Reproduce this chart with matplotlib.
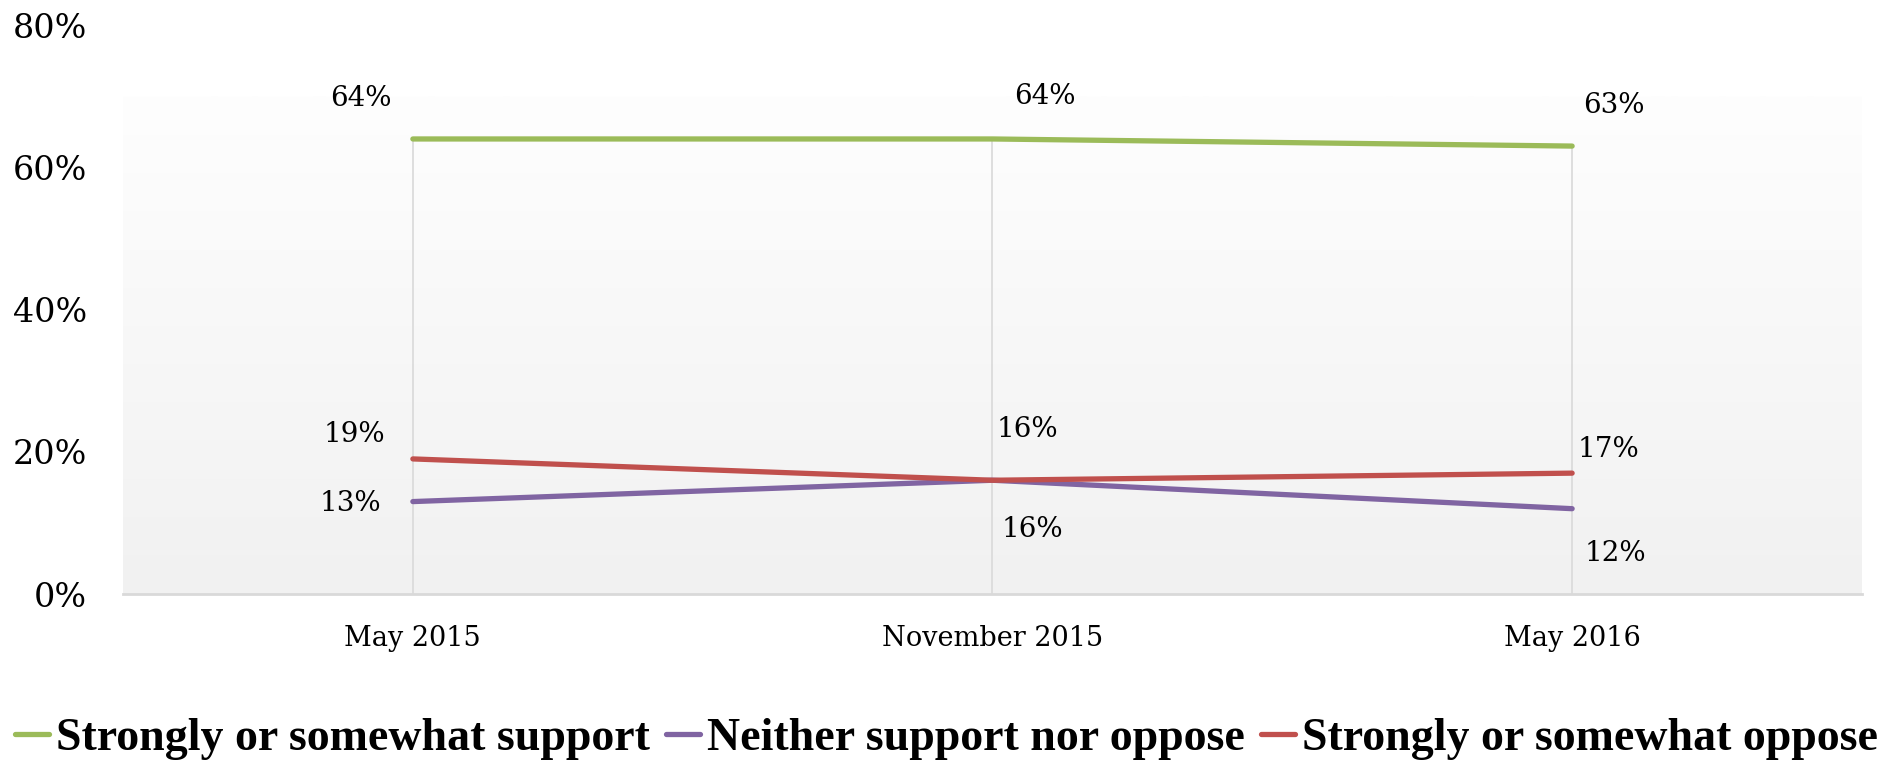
import numpy as np
import matplotlib
matplotlib.use('Agg')
import matplotlib.pyplot as plt
from matplotlib.ticker import FuncFormatter

# data
categories = ['May 2015', 'November 2015', 'May 2016']
support = [64, 64, 63]
neither = [13, 16, 12]
oppose = [19, 16, 17]
series_names = ['Strongly or somewhat support', 'Neither support nor oppose', 'Strongly or somewhat oppose']
y_ticks = [0, 20, 40, 60, 80]

GREEN, PURPLE, RED = '#9BBB59', '#8064A2', '#C0504D'
SERIF = ['DejaVu Serif']

fig = plt.figure(figsize=(18.93, 7.64), dpi=100, facecolor='white')
ax = fig.add_axes([0.065, 0.2225, 0.9186, 0.7445])
x = np.arange(len(categories))

ax.set_xlim(-0.5, 2.5)
ax.set_ylim(0, 80)

# gradient plot-area background (white at top -> light grey at bottom)
grad = np.linspace(0, 1, 256).reshape(-1, 1)
ax.imshow(grad, extent=[-0.5, 2.5, 0, 70], aspect='auto', origin='lower',
          cmap=matplotlib.colors.LinearSegmentedColormap.from_list('bg', ['#f1f1f1', '#fefefe']),
          zorder=0)

# drop lines
tops = np.maximum.reduce([support, neither, oppose])
ax.vlines(x, 0, tops, color='#d9d9d9', linewidth=1.2, zorder=1)

ax.plot(x, support, color=GREEN, linewidth=3.8, solid_capstyle='round', label=series_names[0], zorder=3)
ax.plot(x, neither, color=PURPLE, linewidth=3.8, solid_capstyle='round', label=series_names[1], zorder=3)
ax.plot(x, oppose, color=RED, linewidth=3.8, solid_capstyle='round', label=series_names[2], zorder=3)

# data labels (offsets in pixels)
label_offsets = {
    'support': [(-52, 40), (52, 42), (42, 41)],
    'neither': [(-62, -2), (40, -49), (43, -45)],
    'oppose': [(-58, 24), (35, 51), (36, 24)],
}
for key, vals in [('support', support), ('neither', neither), ('oppose', oppose)]:
    for i, v in enumerate(vals):
        ax.annotate(f'{v}%', (x[i], v), xytext=label_offsets[key][i], textcoords='offset pixels',
                    ha='center', va='center', fontsize=20, family=SERIF, color='black', zorder=4)

for s in ['top', 'right', 'left']:
    ax.spines[s].set_visible(False)
ax.spines['bottom'].set_color('#d9d9d9')
ax.spines['bottom'].set_linewidth(2)
ax.spines['bottom'].set_zorder(2)

ax.set_xticks(x)
ax.set_xticklabels(categories, fontsize=19.5, family=SERIF)
ax.set_yticks(y_ticks)
ax.yaxis.set_major_formatter(FuncFormatter(lambda v, p: f'{v:.0f}%'))
for lab in ax.get_yticklabels():
    lab.set_family(SERIF)
    lab.set_fontsize(24)
ax.tick_params(axis='both', length=0)
ax.tick_params(axis='x', pad=22)
ax.tick_params(axis='y', pad=26)

leg = fig.legend(loc='center', bbox_to_anchor=(0.5, 0.033), ncol=3, frameon=False,
                 prop={'family': 'Liberation Serif', 'weight': 'bold', 'size': 33},
                 handlelength=0.75, handletextpad=0.15, columnspacing=0.35, borderaxespad=0)

fig.savefig('out.png', dpi=100, facecolor='white')
